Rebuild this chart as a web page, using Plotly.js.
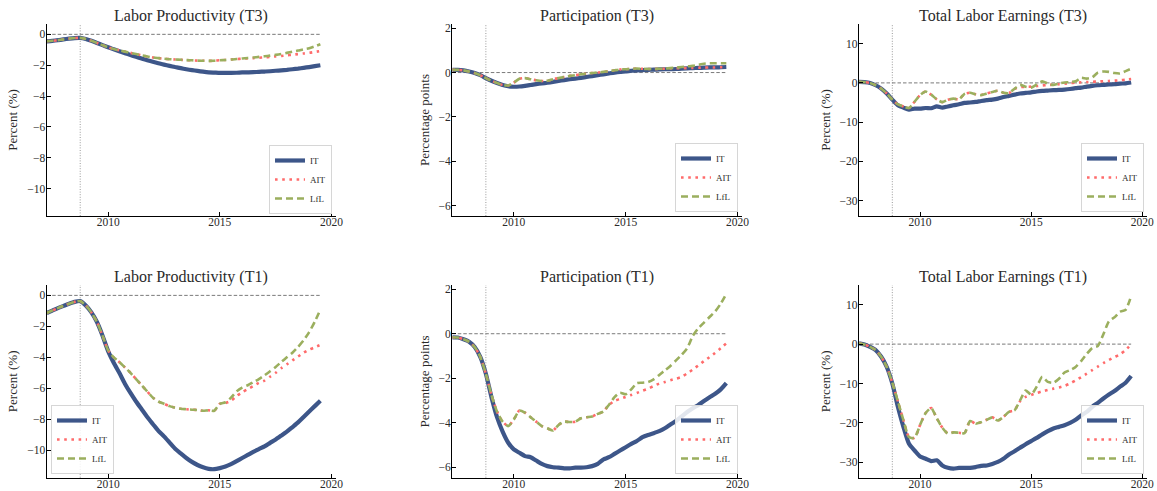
<!DOCTYPE html>
<html>
<head>
<meta charset="utf-8">
<script src="https://cdn.plot.ly/plotly-3.0.1.min.js"></script>
<style>
  html, body { margin: 0; padding: 0; background: #fff; }
  #chart { width: 1157px; height: 491px; }
</style>
</head>
<body>
<div id="chart"></div>
<script>
// ---------------- DATA ----------------
const quarters = [
  2007.25, 2007.5, 2007.75,
  2008, 2008.25, 2008.5, 2008.75,
  2009, 2009.25, 2009.5, 2009.75,
  2010, 2010.25, 2010.5, 2010.75,
  2011, 2011.25, 2011.5, 2011.75,
  2012, 2012.25, 2012.5, 2012.75,
  2013, 2013.25, 2013.5, 2013.75,
  2014, 2014.25, 2014.5, 2014.75,
  2015, 2015.25, 2015.5, 2015.75,
  2016, 2016.25, 2016.5, 2016.75,
  2017, 2017.25, 2017.5, 2017.75,
  2018, 2018.25, 2018.5, 2018.75,
  2019, 2019.25, 2019.5
];

const seriesNames = ['IT', 'AIT', 'LfL'];
const xTickVals = [2010, 2015, 2020];
const recessionStart = 2008.75;
const baseline = 0;

// Labor Productivity (T3)
const lpT3_IT = [
  -0.45, -0.42, -0.38,
  -0.33, -0.28, -0.24, -0.23,
  -0.30, -0.42, -0.56, -0.70,
  -0.84, -0.97, -1.10, -1.22,
  -1.34, -1.46, -1.57, -1.68,
  -1.78, -1.87, -1.96, -2.04,
  -2.12, -2.19, -2.26, -2.32,
  -2.37, -2.42, -2.46, -2.48,
  -2.50, -2.50, -2.50, -2.49,
  -2.47, -2.46, -2.45, -2.43,
  -2.41, -2.39, -2.36, -2.33,
  -2.30, -2.26, -2.22, -2.17,
  -2.12, -2.06, -2.00
];
const lpT3_AIT = [
  -0.45, -0.42, -0.38,
  -0.33, -0.28, -0.24, -0.23,
  -0.30, -0.42, -0.56, -0.70,
  -0.84, -0.95, -1.04, -1.12,
  -1.20, -1.28, -1.36, -1.43,
  -1.50, -1.54, -1.58, -1.61,
  -1.63, -1.65, -1.67, -1.68,
  -1.70, -1.71, -1.72, -1.71,
  -1.68, -1.66, -1.63, -1.60,
  -1.58, -1.56, -1.54, -1.52,
  -1.49, -1.46, -1.43, -1.40,
  -1.36, -1.32, -1.28, -1.24,
  -1.20, -1.14, -1.08
];
const lpT3_LfL = [
  -0.45, -0.42, -0.38,
  -0.33, -0.28, -0.24, -0.23,
  -0.30, -0.42, -0.56, -0.70,
  -0.84, -0.95, -1.04, -1.12,
  -1.20, -1.28, -1.36, -1.43,
  -1.50, -1.54, -1.58, -1.61,
  -1.63, -1.65, -1.67, -1.68,
  -1.70, -1.71, -1.72, -1.71,
  -1.68, -1.66, -1.63, -1.60,
  -1.56, -1.53, -1.50, -1.46,
  -1.42, -1.38, -1.33, -1.27,
  -1.20, -1.12, -1.05, -0.97,
  -0.90, -0.78, -0.64
];

// Participation (T3)
const partT3_IT = [
  0.12, 0.12, 0.10,
  0.05, -0.02, -0.12, -0.25,
  -0.37, -0.47, -0.56, -0.62,
  -0.64, -0.63, -0.60, -0.56,
  -0.52, -0.49, -0.46, -0.42,
  -0.38, -0.34, -0.30, -0.27,
  -0.24, -0.20, -0.16, -0.12,
  -0.08, -0.04, 0.00, 0.03,
  0.05, 0.08, 0.10, 0.11,
  0.12, 0.13, 0.14, 0.15,
  0.15, 0.16, 0.18, 0.19,
  0.20, 0.21, 0.22, 0.23,
  0.23, 0.24, 0.25
];
const partT3_AIT = [
  0.12, 0.12, 0.10,
  0.05, -0.02, -0.12, -0.25,
  -0.37, -0.47, -0.56, -0.58,
  -0.45, -0.28, -0.25, -0.30,
  -0.35, -0.38, -0.37, -0.30,
  -0.25, -0.20, -0.15, -0.12,
  -0.08, -0.05, -0.02, 0.00,
  0.03, 0.06, 0.10, 0.14,
  0.15, 0.17, 0.18, 0.17,
  0.16, 0.16, 0.17, 0.17,
  0.18, 0.19, 0.20, 0.20,
  0.21, 0.22, 0.22, 0.23,
  0.23, 0.24, 0.24
];
const partT3_LfL = [
  0.12, 0.12, 0.10,
  0.05, -0.02, -0.12, -0.25,
  -0.37, -0.47, -0.56, -0.58,
  -0.45, -0.28, -0.25, -0.30,
  -0.35, -0.38, -0.37, -0.30,
  -0.25, -0.20, -0.15, -0.12,
  -0.08, -0.05, -0.02, 0.00,
  0.03, 0.06, 0.10, 0.14,
  0.15, 0.17, 0.18, 0.17,
  0.16, 0.16, 0.17, 0.18,
  0.20, 0.22, 0.25, 0.28,
  0.30, 0.35, 0.40, 0.42,
  0.42, 0.42, 0.42
];

// Total Labor Earnings (T3)
const earnT3_IT = [
  0.25, 0.20, 0.00,
  -0.60, -1.45, -2.70, -4.25,
  -5.70, -6.30, -6.80, -6.55,
  -6.55, -6.40, -6.45, -6.00,
  -6.30, -6.00, -5.70, -5.45,
  -5.10, -5.00, -4.85, -4.60,
  -4.40, -4.25, -4.00, -3.60,
  -3.30, -3.00, -2.70, -2.55,
  -2.40, -2.20, -2.05, -1.95,
  -1.85, -1.80, -1.70, -1.55,
  -1.35, -1.20, -0.95, -0.75,
  -0.60, -0.50, -0.40, -0.35,
  -0.20, -0.10, 0.10
];
const earnT3_AIT = [
  0.25, 0.20, 0.00,
  -0.60, -1.45, -2.70, -4.25,
  -5.50, -6.00, -6.40, -4.80,
  -3.10, -2.20, -3.00, -4.20,
  -4.90, -4.30, -4.00, -4.20,
  -2.80, -2.50, -2.90, -3.10,
  -2.70, -2.30, -2.00, -2.50,
  -2.60, -1.50, -1.10, -1.00,
  -0.95, -0.80, -0.65, -0.55,
  -0.45, -0.35, -0.20, -0.05,
  0.05, 0.15, 0.22, 0.30,
  0.35, 0.42, 0.50, 0.58,
  0.68, 0.82, 1.00
];
const earnT3_LfL = [
  0.25, 0.20, 0.00,
  -0.60, -1.45, -2.70, -4.25,
  -5.50, -6.00, -6.40, -4.80,
  -3.10, -2.20, -3.00, -4.20,
  -4.90, -4.30, -4.00, -4.20,
  -2.80, -2.50, -2.90, -3.10,
  -2.70, -2.30, -2.00, -2.50,
  -2.60, -1.50, -0.50, -1.00,
  -1.20, -0.40, 0.40, -0.20,
  -0.50, -0.10, 0.10, 0.20,
  0.40, 1.30, 1.10, 1.40,
  2.60, 2.90, 2.80, 2.50,
  2.40, 3.00, 3.60
];

// Labor Productivity (T1)
const lpT1_IT = [
  -1.14, -0.98, -0.82,
  -0.68, -0.54, -0.42, -0.37,
  -0.65, -1.10, -1.72, -2.60,
  -3.60, -4.35, -5.00, -5.70,
  -6.30, -6.85, -7.35, -7.85,
  -8.30, -8.75, -9.10, -9.50,
  -9.90, -10.20, -10.50, -10.75,
  -10.95, -11.10, -11.20, -11.22,
  -11.15, -11.05, -10.90, -10.70,
  -10.50, -10.30, -10.10, -9.92,
  -9.75, -9.52, -9.30, -9.05,
  -8.80, -8.50, -8.20, -7.85,
  -7.50, -7.15, -6.80
];
const lpT1_AIT = [
  -1.14, -0.98, -0.82,
  -0.68, -0.54, -0.42, -0.37,
  -0.65, -1.10, -1.72, -2.60,
  -3.55, -4.00, -4.30, -4.65,
  -5.00, -5.40, -5.80, -6.20,
  -6.60, -6.85, -7.00, -7.15,
  -7.25, -7.32, -7.35, -7.38,
  -7.40, -7.45, -7.42, -7.45,
  -7.00, -6.95, -6.80, -6.50,
  -6.25, -6.05, -5.85, -5.65,
  -5.50, -5.25, -5.00, -4.70,
  -4.45, -4.20, -3.95, -3.70,
  -3.50, -3.35, -3.20
];
const lpT1_LfL = [
  -1.14, -0.98, -0.82,
  -0.68, -0.54, -0.42, -0.37,
  -0.65, -1.10, -1.72, -2.60,
  -3.55, -4.00, -4.30, -4.65,
  -5.00, -5.40, -5.80, -6.20,
  -6.60, -6.85, -7.00, -7.15,
  -7.25, -7.32, -7.35, -7.38,
  -7.40, -7.45, -7.42, -7.45,
  -7.00, -6.90, -6.60, -6.20,
  -5.95, -5.80, -5.60, -5.40,
  -5.16, -4.90, -4.62, -4.30,
  -4.00, -3.70, -3.33, -2.90,
  -2.37, -1.70, -0.92
];

// Participation (T1)
const partT1_IT = [
  -0.16, -0.17, -0.25,
  -0.36, -0.60, -1.04, -1.80,
  -2.85, -3.75, -4.40, -4.90,
  -5.20, -5.35, -5.50, -5.55,
  -5.70, -5.85, -5.95, -6.00,
  -6.02, -6.05, -6.05, -6.02,
  -6.02, -6.00, -5.95, -5.85,
  -5.65, -5.55, -5.40, -5.25,
  -5.10, -4.95, -4.82, -4.65,
  -4.55, -4.47, -4.38, -4.25,
  -4.08, -3.92, -3.72, -3.52,
  -3.35, -3.20, -3.02, -2.85,
  -2.70, -2.50, -2.22
];
const partT1_AIT = [
  -0.16, -0.17, -0.25,
  -0.36, -0.60, -1.04, -1.80,
  -2.75, -3.50, -3.95, -4.15,
  -3.85, -3.45, -3.55, -3.75,
  -3.95, -4.15, -4.25, -4.35,
  -4.10, -3.95, -3.97, -3.95,
  -3.80, -3.75, -3.72, -3.60,
  -3.50, -3.20, -3.02, -2.93,
  -2.84, -2.75, -2.66, -2.56,
  -2.47, -2.35, -2.24, -2.17,
  -2.09, -2.02, -1.94, -1.78,
  -1.61, -1.42, -1.23, -1.05,
  -0.86, -0.65, -0.43
];
const partT1_LfL = [
  -0.16, -0.17, -0.25,
  -0.36, -0.60, -1.04, -1.80,
  -2.75, -3.50, -3.95, -4.15,
  -3.85, -3.45, -3.55, -3.75,
  -3.95, -4.15, -4.25, -4.35,
  -4.10, -3.95, -3.97, -3.95,
  -3.80, -3.75, -3.72, -3.60,
  -3.50, -3.20, -2.85, -2.65,
  -2.72, -2.50, -2.22, -2.20,
  -2.17, -2.05, -1.85, -1.65,
  -1.45, -1.20, -0.95, -0.65,
  -0.10, 0.25, 0.50, 0.75,
  1.00, 1.35, 1.80
];

// Total Labor Earnings (T1)
const earnT1_IT = [
  0.20, -0.10, -0.70,
  -1.50, -3.20, -5.80, -10.00,
  -15.90, -21.00, -25.30, -27.00,
  -28.50, -29.10, -29.70, -29.50,
  -30.80, -31.40, -31.60, -31.40,
  -31.40, -31.40, -31.20, -30.90,
  -30.80, -30.40, -29.90, -29.10,
  -28.00, -27.20, -26.30, -25.40,
  -24.60, -23.80, -22.90, -22.10,
  -21.40, -21.00, -20.60, -20.00,
  -19.20, -18.10, -17.20, -15.90,
  -14.90, -13.80, -12.80, -11.90,
  -10.80, -9.80, -8.10
];
const earnT1_AIT = [
  0.20, -0.10, -0.70,
  -1.50, -3.20, -5.80, -9.80,
  -14.50, -19.30, -23.60, -23.80,
  -20.50, -17.50, -16.20, -18.80,
  -21.20, -22.70, -22.40, -22.50,
  -22.60, -19.50, -20.20, -19.80,
  -19.20, -18.60, -19.40, -18.50,
  -17.20, -16.80, -14.50, -13.40,
  -12.90, -12.40, -12.00, -11.60,
  -11.30, -11.00, -10.60, -10.00,
  -9.20, -8.40, -7.50, -6.60,
  -5.70, -4.80, -4.00, -3.30,
  -2.60, -1.50, -0.10
];
const earnT1_LfL = [
  0.20, -0.10, -0.70,
  -1.50, -3.20, -5.80, -9.80,
  -14.50, -19.30, -23.60, -23.80,
  -20.50, -17.50, -16.20, -18.80,
  -21.20, -22.70, -22.40, -22.50,
  -22.60, -19.50, -20.20, -19.80,
  -19.20, -18.60, -19.40, -18.50,
  -17.20, -16.80, -14.30, -11.80,
  -12.80, -10.80, -8.30, -9.60,
  -9.80, -8.80, -7.20, -6.60,
  -5.80, -4.30, -2.50, -1.00,
  -0.50, 2.50, 5.80, 6.80,
  8.20, 8.70, 12.20
];

const panelTitles = [
  'Labor Productivity (T3)', 'Participation (T3)', 'Total Labor Earnings (T3)',
  'Labor Productivity (T1)', 'Participation (T1)', 'Total Labor Earnings (T1)'
];
const yTitles = [
  'Percent (%)', 'Percentage points', 'Percent (%)',
  'Percent (%)', 'Percentage points', 'Percent (%)'
];
const panelSeries = [
  [lpT3_IT, lpT3_AIT, lpT3_LfL],
  [partT3_IT, partT3_AIT, partT3_LfL],
  [earnT3_IT, earnT3_AIT, earnT3_LfL],
  [lpT1_IT, lpT1_AIT, lpT1_LfL],
  [partT1_IT, partT1_AIT, partT1_LfL],
  [earnT1_IT, earnT1_AIT, earnT1_LfL]
];

// ---------------- STYLE / LAYOUT ----------------
const FONT = 'Liberation Serif, Times New Roman, serif';
const TEXT = '#2a2a2a';
const lineStyles = [
  {color: '#3D5689', width: 4.2, dash: 'solid'},
  {color: '#FF6B6B', width: 2.6, dash: '2.6px,4.6px'},
  {color: '#9BAF5E', width: 2.6, dash: '7px,4px'}
];

const W = 1157, H = 491;
const colPx = [[46.7, 336], [452.3, 742], [859, 1146.7]];
const rowPx = [[24, 216], [285, 477.7]];
const titleYpx = [15.5, 276.5];
const xRange = [2007.25, 2020.2];
const yRanges = [
  [-11.77, 0.67], [-6.47, 2.19], [-33.9, 15.0],
  [-11.77, 0.67], [-6.47, 2.19], [-33.9, 15.0]
];
const yTicks = [
  [-10, -8, -6, -4, -2, 0], [-6, -4, -2, 0, 2], [-30, -20, -10, 0, 10],
  [-10, -8, -6, -4, -2, 0], [-6, -4, -2, 0, 2], [-30, -20, -10, 0, 10]
];
// legend box anchors (px): [x, y(bottom), xanchor]
const legendPos = [
  [332, 214, 'right'], [738, 212, 'right'], [1144, 212, 'right'],
  [51, 474, 'left'], [738, 474, 'right'], [1144, 474, 'right']
];

const traces = [];
const layout = {
  width: W, height: H,
  margin: {l: 0, r: 0, t: 0, b: 0},
  paper_bgcolor: '#fff', plot_bgcolor: '#fff',
  font: {family: FONT, color: TEXT, size: 11},
  showlegend: true,
  shapes: [], annotations: []
};

for (let p = 0; p < 6; p++) {
  const n = p + 1;
  const sfx = n === 1 ? '' : String(n);
  const col = p % 3, row = Math.floor(p / 3);
  const xa = 'x' + sfx, ya = 'y' + sfx;
  const legName = 'legend' + sfx;

  layout['xaxis' + sfx] = {
    domain: [colPx[col][0] / W, colPx[col][1] / W],
    range: xRange, anchor: ya,
    tickmode: 'array', tickvals: xTickVals, ticktext: xTickVals.map(String),
    ticks: 'inside', ticklen: 4, tickwidth: 1, tickcolor: '#000',
    ticklabelstandoff: -5,
    showline: true, linecolor: '#000', linewidth: 1.2, mirror: false,
    showgrid: false, zeroline: false,
    tickfont: {family: FONT, size: 11.5, color: TEXT}
  };
  layout['yaxis' + sfx] = {
    domain: [1 - rowPx[row][1] / H, 1 - rowPx[row][0] / H],
    range: yRanges[p], anchor: xa,
    tickmode: 'array', tickvals: yTicks[p],
    ticks: 'inside', ticklen: 4, tickwidth: 1, tickcolor: '#000',
    ticklabelstandoff: -2,
    showline: true, linecolor: '#000', linewidth: 1.2, mirror: false,
    showgrid: false, zeroline: false,
    tickfont: {family: FONT, size: 11.5, color: TEXT},
    title: {text: yTitles[p], font: {family: FONT, size: 13, color: TEXT}, standoff: 6}
  };

  const lp = legendPos[p];
  layout[legName] = {
    x: lp[0] / W, y: 1 - lp[1] / H, xanchor: lp[2], yanchor: 'bottom',
    xref: 'paper', yref: 'paper',
    bgcolor: 'rgba(255,255,255,0.85)', bordercolor: '#d6d6d6', borderwidth: 1,
    font: {family: FONT, size: 9, color: TEXT},
    itemwidth: 30, tracegroupgap: 0
  };

  panelSeries[p].forEach((vals, k) => {
    traces.push({
      type: 'scatter', mode: 'lines',
      x: quarters, y: vals,
      name: seriesNames[k],
      xaxis: xa, yaxis: ya,
      legend: legName,
      line: {color: lineStyles[k].color, width: lineStyles[k].width, dash: lineStyles[k].dash, shape: 'spline', smoothing: 0.6},
      hoverinfo: 'skip'
    });
  });

  // reference lines
  layout.shapes.push({
    type: 'line', layer: 'below',
    xref: xa, yref: ya + ' domain',
    x0: recessionStart, x1: recessionStart, y0: 0, y1: 1,
    line: {color: '#9a9a9a', width: 1, dash: '1px,1.6px'}
  });
  layout.shapes.push({
    type: 'line', layer: 'below',
    xref: xa, yref: ya,
    x0: quarters[0], x1: quarters[quarters.length - 1], y0: baseline, y1: baseline,
    line: {color: '#7a7a7a', width: 1, dash: '3.5px,2px'}
  });

  layout.annotations.push({
    text: panelTitles[p], showarrow: false,
    xref: xa + ' domain', x: 0.5, xanchor: 'center',
    yref: 'paper', y: 1 - titleYpx[row] / H, yanchor: 'middle',
    font: {family: FONT, size: 16, color: TEXT}
  });
}

Plotly.newPlot('chart', traces, layout, {displayModeBar: false, staticPlot: true});
</script>
</body>
</html>
